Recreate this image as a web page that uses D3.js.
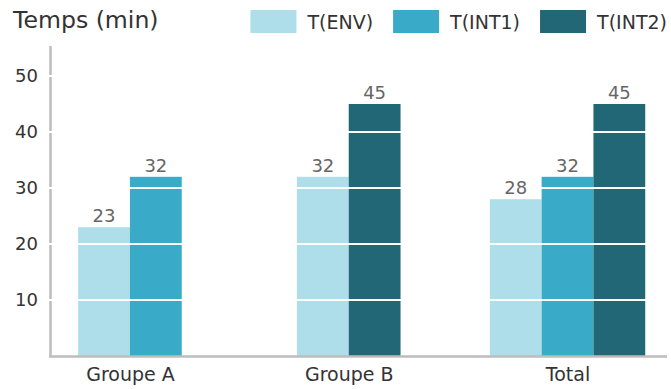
<!DOCTYPE html>
<html>
<head>
<meta charset="utf-8">
<script src="https://cdn.jsdelivr.net/npm/d3@7"></script>
<style>
  html, body { margin: 0; padding: 0; background: #fff; }
  svg { display: block; font-family: "DejaVu Sans", sans-serif; }
</style>
</head>
<body>
<svg id="chart" width="671" height="389"></svg>
<script>
// Data
const groups = ["Groupe A", "Groupe B", "Total"];
const seriesNames = ["T(ENV)", "T(INT1)", "T(INT2)"];
const seriesColors = ["#aedeea", "#39abc9", "#226776"];
// one value per group for each series; null = not measured for that group
const envValues  = [23, 32, 28];
const int1Values = [32, null, 32];
const int2Values = [null, 45, 45];
const yTicks = [10, 20, 30, 40, 50];
const yTitle = "Temps (min)";

const seriesValues = [envValues, int1Values, int2Values];

const W = 671, H = 389;
const margin = { left: 51, right: 3 };
const plotLeft = margin.left, plotRight = W - margin.right;
const plotBottom = 356;

const svg = d3.select("#chart");

const y = d3.scaleLinear().domain([0, 55]).range([plotBottom, 48]);
const x = d3.scalePoint().domain(groups).range([plotLeft, plotRight]).padding(0.41).align(0.44);
const barW = 51.8;

const barLayer = svg.append("g");
const axisLayer = svg.append("g");
const gridLayer = svg.append("g");
const labelLayer = svg.append("g");

// bars: only the series present in each group, packed and centred on the group
groups.forEach((g, gi) => {
  const present = seriesNames
    .map((s, si) => ({ s, si, v: seriesValues[si][gi] }))
    .filter(d => d.v != null);
  const inner = d3.scaleBand()
    .domain(present.map(d => d.s))
    .range([-present.length * barW / 2, present.length * barW / 2])
    .padding(0);
  const cx = x(g);

  barLayer.append("g").selectAll("rect").data(present).join("rect")
    .attr("x", d => cx + inner(d.s))
    .attr("y", d => y(d.v))
    .attr("width", inner.bandwidth())
    .attr("height", d => y(0) - y(d.v))
    .attr("fill", d => seriesColors[d.si]);

  labelLayer.append("g").selectAll("text").data(present).join("text")
    .attr("x", d => cx + inner(d.s) + inner.bandwidth() / 2)
    .attr("y", d => y(d.v) - 5)
    .attr("text-anchor", "middle")
    .attr("font-size", 18)
    .attr("fill", "#666")
    .text(d => d.v);
});

// axes
const yAxis = d3.axisLeft(y).tickValues(yTicks).tickSize(0).tickPadding(13);
const yg = axisLayer.append("g").attr("transform", `translate(${plotLeft},0)`).call(yAxis);
yg.select(".domain").remove();
yg.selectAll("text").attr("font-size", 18).attr("fill", "#333").attr("font-family", "DejaVu Sans, sans-serif");

axisLayer.append("line")
  .attr("x1", plotLeft - 0.5).attr("x2", plotLeft - 0.5)
  .attr("y1", 46).attr("y2", plotBottom + 1.5)
  .attr("stroke", "#bdbdbd").attr("stroke-width", 2.5);

const xAxis = d3.axisBottom(x).tickSize(0).tickPadding(12);
const xg = axisLayer.append("g").attr("transform", `translate(0,${plotBottom})`).call(xAxis);
xg.select(".domain").remove();
xg.selectAll("text").attr("font-size", 19).attr("fill", "#333").attr("font-family", "DejaVu Sans, sans-serif");

axisLayer.append("line")
  .attr("x1", plotLeft - 1.75).attr("x2", plotRight - 1)
  .attr("y1", plotBottom + 0.5).attr("y2", plotBottom + 0.5)
  .attr("stroke", "#bdbdbd").attr("stroke-width", 2.5);

// white gridlines over bars and axis
gridLayer.selectAll("line").data(yTicks).join("line")
  .attr("x1", plotLeft - 3).attr("x2", plotRight)
  .attr("y1", d => Math.round(y(d))).attr("y2", d => Math.round(y(d)))
  .attr("stroke", "#fff").attr("stroke-width", 2);

// title
svg.append("text")
  .attr("x", 13).attr("y", 28)
  .attr("font-size", 23.6).attr("fill", "#333")
  .text(yTitle);

// legend, right aligned
const legend = svg.append("g");
const items = legend.selectAll("g").data(seriesNames).join("g");
items.append("rect").attr("width", 46).attr("height", 23).attr("y", 10)
  .attr("fill", (d, i) => seriesColors[i]);
items.append("text").attr("x", 57).attr("y", 28.5)
  .attr("font-size", 19).attr("fill", "#333").text(d => d);
const widths = [];
items.each(function () {
  const tw = d3.select(this).select("text").node().getComputedTextLength();
  widths.push(57 + tw);
});
const totalW = d3.sum(widths) + 20 * (widths.length - 1);
let cursor = 667 - totalW;
items.attr("transform", (d, i) => {
  const t = `translate(${cursor},0)`;
  cursor += widths[i] + 20;
  return t;
});
</script>
</body>
</html>
